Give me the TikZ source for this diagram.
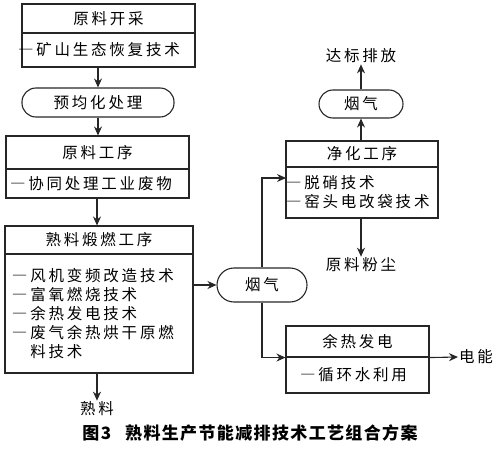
\documentclass[tikz,border=0pt]{standalone}
\usepackage{fontspec}
\setmainfont{Noto Sans CJK SC}[LetterSpace=18]
\newfontfamily\captionfont{Noto Sans CJK SC}[LetterSpace=8]
\usetikzlibrary{arrows.meta}
\tikzset{
	box/.style={draw, line width=1.1pt, color=black!85, text=black, minimum width=#1, inner sep=0pt},
	pill/.style={draw, line width=1.1pt, color=black!85, text=black, rounded corners=14pt, inner sep=0pt},
	word/.style={inner sep=1pt},
	arr/.style={line width=1.1pt, color=black!85, -{Stealth[length=9pt,width=8pt]}}
}

\begin{document}
\begin{tikzpicture}[x=1pt, y=-1pt, font=\fontsize{15.5}{19}\selectfont]
		%%%%% START %%%%%
		\useasboundingbox (0, 0) rectangle (500, 449);
		
		\node[box=173, minimum height=29] (kc) at (108.5, 18.5) {原料开采};
		\node[box=173, minimum height=34, text width=181, inner xsep=-4pt, align=left] (kcb) at (108.5, 50) {―矿山生态恢复技术};
		
		\node[pill, minimum width=152, minimum height=29] (yjh) at (98, 102.5) {预均化处理};
		
		\node[box=183, minimum height=33] (gx) at (97.5, 152.5) {原料工序};
		\node[box=183, minimum height=29, text width=175, inner xsep=4pt, align=left] (gxb) at (97.5, 183.5) {―协同处理工业废物};
		
		\node[box=188, minimum height=28] (dl) at (99, 240) {熟料煅燃工序};
		\node[box=188, minimum height=119, text width=174, inner xsep=7pt, align=left] (dlb) at (99, 313.5) {―风机变频改造技术\\―富氧燃烧技术\\―余热发电技术\\―废气余热烘干原燃\\\hspace*{18.3pt}料技术};
		
		\node[word] (shl) at (97, 409) {熟料};
		
		\node[pill, minimum width=90, minimum height=34, rounded corners=17pt] (yqa) at (262, 285) {烟气};
		
		\node[box=152, minimum height=26] (jh) at (362, 154) {净化工序};
		\node[box=152, minimum height=51, text width=152, align=left] (jhb) at (362, 192.5) {―脱硝技术\\―窑头电改袋技术};
		\coordinate (jhin) at (286, 178);
		
		\node[pill, minimum width=84, minimum height=28] (yqb) at (361, 104) {烟气};
		\node[word] (dbpf) at (361, 56) {达标排放};
		\node[word] (flfc) at (361, 265) {原料粉尘};
		
		\node[box=143, minimum height=31] (yr) at (357.5, 341.5) {余热发电};
		\node[box=143, minimum height=36, text width=115, inner xsep=14pt, align=left] (yrb) at (357.5, 375) {―循环水利用};
		\node[word, anchor=west] (dn) at (458, 357) {电能};
		
		\draw[arr] (kcb.south -| yjh.north) -- (yjh.north);
		\draw[arr] (yjh.south) -- (gx.north -| yjh.south);
		\draw[arr] (gxb.south -| 97, 0) -- (dl.north -| 97, 0);
		\draw[arr] (dlb.south -| shl.north) -- (shl.north);
		\draw[arr] (yqa.west -| dlb.east) -- (yqa.west);
		\draw[arr] (yqa.north) |- (jhin);
		\draw[arr] (jh.north -| yqb.south) -- (yqb.south);
		\draw[arr] (yqb.north) -- (dbpf.south);
		\draw[arr] (jhb.south -| flfc.north) -- (flfc.north);
		\draw[arr] (yqa.south) |- (yr.south west);
		\draw[arr] (yr.south east) -- (dn.west);
		
		\node[font=\captionfont\bfseries\fontsize{17}{20}\selectfont] (cap) at (250, 433) {图3\hspace{14pt}熟料生产节能减排技术工艺组合方案};
		
		%%%%% END %%%%%
\end{tikzpicture}
\end{document}
